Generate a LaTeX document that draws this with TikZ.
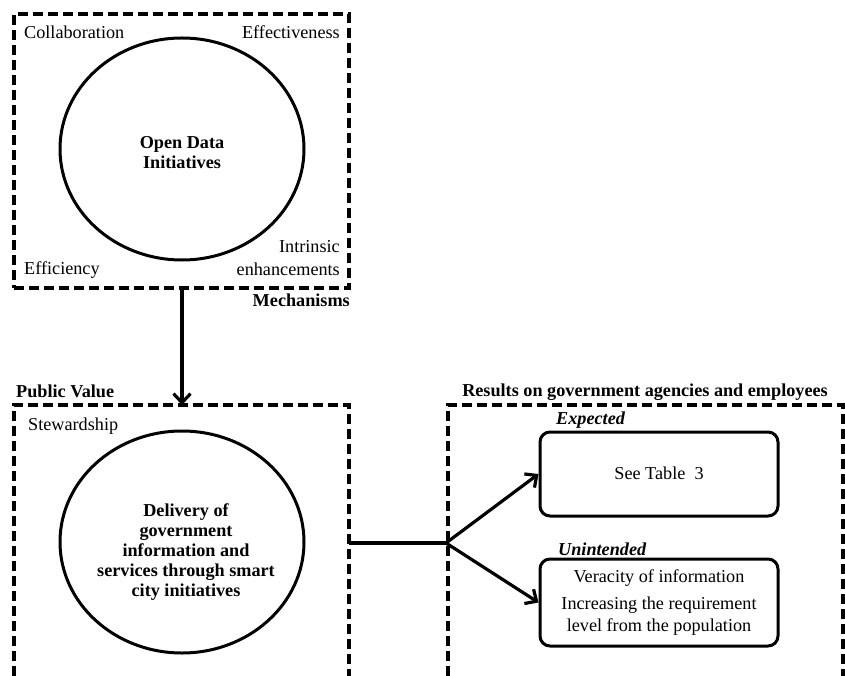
\documentclass[tikz,border=0pt]{standalone}
\usepackage{fontspec}
\setmainfont{Liberation Serif}
\usetikzlibrary{arrows.meta,shapes.geometric}
\tikzset{
  dashbox/.style={draw, line width=3.2pt, dash pattern=on 10pt off 5pt},
  oval/.style={draw, ellipse, line width=3pt, inner sep=0pt},
  rbox/.style={draw, rounded corners=10pt, line width=3pt, inner sep=0pt},
  lbl/.style={inner sep=0pt, font=\fontsize{18.2}{22}\selectfont},
  blbl/.style={inner sep=0pt, font=\fontsize{18.2}{20}\selectfont\bfseries},
  ilbl/.style={inner sep=0pt, font=\fontsize{18.2}{20}\selectfont\bfseries\itshape},
  conn/.style={line width=3.2pt},
  arr/.style={line width=3.2pt, -{Straight Barb[length=9pt,width=17pt,line width=3.2pt]}}
}
\begin{document}
\begin{tikzpicture}[x=1pt,y=-1pt]
\useasboundingbox (0,0) rectangle (845,676);
% Mechanisms box
\node[dashbox, minimum width=335pt, minimum height=274pt, inner sep=0pt] (mech) at (181.5,151) {};
\node[oval, minimum width=244pt, minimum height=222pt] (odi) at (182,149) {};
\node[blbl, align=center] (odit) at (182,153) {Open Data\\Initiatives};
\node[lbl, anchor=west] (collab) at (24,32) {Collaboration};
\node[lbl, anchor=east] (effect) at (340,32) {Effectiveness};
\node[lbl, anchor=west] (effic) at (24,270) {Efficiency};
\node[lbl, anchor=east, align=right, font=\fontsize{18.2}{23}\selectfont] (intr) at (340,258) {Intrinsic\\enhancements};
\node[blbl, anchor=east] (mechl) at (350,300) {Mechanisms};
% Public value box (open at bottom)
\draw[dashbox] (14,676) -- (14,405) -- (349,405) -- (349,676);
\coordinate (pvtop) at (182,405);
\coordinate (pvright) at (349,543);
\node[blbl, anchor=west] (pvl) at (16,391) {Public Value};
\node[lbl, anchor=west] (stew) at (28,426) {Stewardship};
\node[oval, minimum width=244pt, minimum height=222pt] (deliv) at (182,542) {};
\node[blbl, align=center] (delivt) at (186,552) {Delivery of\\government\\information and\\services through smart\\city initiatives};
% Results box (open at bottom)
\draw[dashbox] (448,676) -- (448,405) -- (843,405) -- (843,676);
\node[blbl] (resl) at (645,392) {Results on government agencies and employees};
\node[rbox, minimum width=238pt, minimum height=84pt] (exp) at (659,474) {};
\node[lbl] (expt) at (659,473) {See Table\ \ 3};
\node[ilbl, anchor=west] (expl) at (556,420) {Expected};
\node[rbox, minimum width=238pt, minimum height=87pt] (unint) at (659,602.5) {};
\node[lbl] (ver) at (659,578) {Veracity of information};
\node[lbl, align=center] (incr) at (659,616) {Increasing the requirement\\level from the population};
\node[ilbl, anchor=west] (unl) at (558,549) {Unintended};
% connectors
\coordinate (split) at (446,543);
\draw[arr] (mech.south -| pvtop) -- (pvtop);
\draw[conn] (pvright) -- (split);
\draw[arr] (split) -- (exp.west);
\draw[arr] (split) -- (unint.west);
\end{tikzpicture}
\end{document}
